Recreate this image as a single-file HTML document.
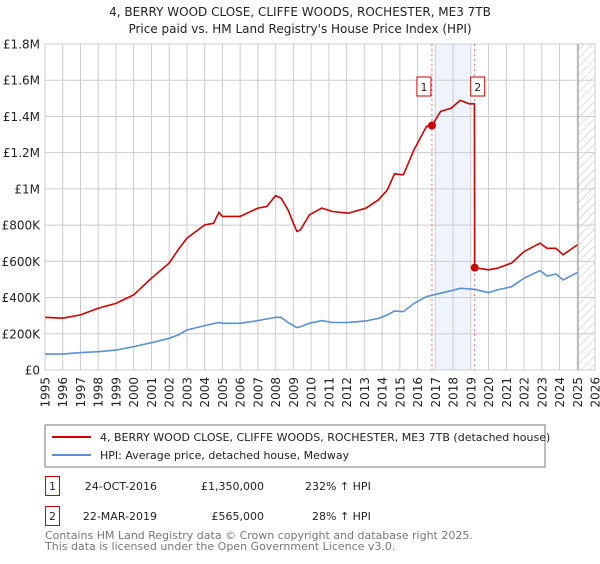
<!DOCTYPE html>
<html><head><meta charset="utf-8"><style>
body{margin:0;background:#fff;width:600px;height:560px;overflow:hidden;font-family:"DejaVu Sans","Liberation Sans",sans-serif;}
svg text{font-family:"DejaVu Sans","Liberation Sans",sans-serif;}
</style></head><body>
<svg id="chart" width="600" height="560" xmlns="http://www.w3.org/2000/svg">
<defs><pattern id="hatch" width="6" height="6" patternUnits="userSpaceOnUse" patternTransform="rotate(45)"><line x1="0" y1="0" x2="0" y2="6" stroke="#bbb" stroke-width="1"/></pattern></defs>
<text x="300" y="16" text-anchor="middle" font-size="12" fill="#222">4, BERRY WOOD CLOSE, CLIFFE WOODS, ROCHESTER, ME3 7TB</text>
<text x="300" y="33" text-anchor="middle" font-size="12" fill="#222">Price paid vs. HM Land Registry's House Price Index (HPI)</text>
<g id="grid"></g><g id="marks"></g><g id="axes"></g>
<rect x="45" y="425" width="500" height="42" fill="#fff" stroke="#777"/>
<line x1="52" y1="437" x2="91" y2="437" stroke="#cc0000" stroke-width="2"/>
<text x="100" y="441" font-size="11" fill="#222">4, BERRY WOOD CLOSE, CLIFFE WOODS, ROCHESTER, ME3 7TB (detached house)</text>
<line x1="52" y1="455" x2="91" y2="455" stroke="#5b8fd6" stroke-width="2"/>
<text x="100" y="459" font-size="11" fill="#222">HPI: Average price, detached house, Medway</text>
<rect x="45.5" y="476.5" width="14" height="19" fill="#fff" stroke="#cc0000"/>
<text x="52.5" y="490" text-anchor="middle" font-size="11" fill="#222">1</text>
<text x="157" y="490" text-anchor="end" font-size="11" fill="#222">24-OCT-2016</text>
<text x="264" y="490" text-anchor="end" font-size="11" fill="#222">£1,350,000</text>
<text x="305" y="490" font-size="11" fill="#222">232% ↑ HPI</text>
<rect x="45.5" y="506.5" width="14" height="19" fill="#fff" stroke="#cc0000"/>
<text x="52.5" y="520" text-anchor="middle" font-size="11" fill="#222">2</text>
<text x="157" y="520" text-anchor="end" font-size="11" fill="#222">22-MAR-2019</text>
<text x="264" y="520" text-anchor="end" font-size="11" fill="#222">£565,000</text>
<text x="312" y="520" font-size="11" fill="#222">28% ↑ HPI</text>
<text x="45" y="539" font-size="11" fill="#777">Contains HM Land Registry data © Crown copyright and database right 2025.</text>
<text x="45" y="550" font-size="11" fill="#777">This data is licensed under the Open Government Licence v3.0.</text>
</svg>
<script>
const yTicks=[0,200,400,600,800,1000,1200,1400,1600,1800];
const yTickLabels=["£0","£200K","£400K","£600K","£800K","£1M","£1.2M","£1.4M","£1.6M","£1.8M"];
const xYears=[1995,1996,1997,1998,1999,2000,2001,2002,2003,2004,2005,2006,2007,2008,2009,2010,2011,2012,2013,2014,2015,2016,2017,2018,2019,2020,2021,2022,2023,2024,2025,2026];
const redX=[1995,1996,1997,1998,1999,2000,2001,2002,2002.5,2003,2004,2004.5,2004.8,2005,2006,2007,2007.5,2008,2008.3,2008.7,2009,2009.2,2009.4,2009.9,2010.6,2011.2,2012.1,2013.1,2013.8,2014.3,2014.7,2015.2,2015.8,2016.5,2016.81,2017.3,2017.9,2018.4,2018.9,2019.2,2019.22,2020,2020.5,2021.3,2022,2022.9,2023.3,2023.8,2024.2,2025];
const redY=[291,286,304,341,368,415,507,590,663,728,801,810,870,848,848,894,903,963,949,884,810,765,774,857,894,875,866,894,940,995,1083,1078,1216,1345,1350,1428,1446,1489,1470,1470,565,553,562,590,654,700,672,672,636,691];
const blueX=[1995,1996,1997,1998,1999,2000,2001,2002,2002.5,2003,2004,2004.8,2005,2006,2007,2008,2008.3,2008.7,2009.2,2009.4,2009.9,2010.6,2011.2,2012.1,2013.1,2013.8,2014.3,2014.7,2015.2,2015.8,2016.5,2017.3,2017.9,2018.4,2019.2,2020,2020.5,2021.3,2022,2022.9,2023.3,2023.8,2024.2,2025];
const blueY=[88,88,96,101,110,129,151,175,193,221,245,262,258,258,273,291,291,262,234,239,258,273,262,263,271,285,304,326,322,368,405,424,438,451,446,427,442,460,507,549,519,530,497,538];
const saleX=[2016.81,2019.22];
const saleY=[1350,565];
const saleLabels=["1","2"];
const L=45,R=595,T=44,B=370;
const xs=y=>L+(y-1995)*(R-L)/31;
const ys=v=>B-v*(B-T)/1800;
const NS="http://www.w3.org/2000/svg";
function mk(p,t,a){const e=document.createElementNS(NS,t);for(const k in a)e.setAttribute(k,a[k]);p.appendChild(e);return e;}
const grid=document.getElementById('grid'),marks=document.getElementById('marks'),axes=document.getElementById('axes');
mk(grid,'rect',{x:xs(2017),y:T,width:xs(2019)-xs(2017),height:B-T,fill:'#eef3fc'});
const hatch=mk(grid,'rect',{x:xs(2025.05),y:T,width:R-xs(2025.05),height:B-T,fill:'url(#hatch)'});


yTicks.forEach((v,i)=>{
 mk(grid,'line',{x1:L,x2:R,y1:ys(v),y2:ys(v),stroke:'#ccc','stroke-width':1});
 const t=mk(axes,'text',{x:40,y:ys(v)+4.5,'text-anchor':'end','font-size':12,fill:'#222'});
 t.textContent=yTickLabels[i];
 
 
});
xYears.forEach(y=>{
 mk(grid,'line',{x1:xs(y),x2:xs(y),y1:T,y2:B,stroke:'#ccc','stroke-width':1});
 const t=mk(axes,'text',{x:0,y:0,'text-anchor':'end','font-size':12,fill:'#222',transform:`translate(${xs(y)+4.5},377) rotate(-90)`});
 t.textContent=y;
 
 
});
mk(grid,'line',{x1:xs(2025.05),x2:xs(2025.05),y1:T,y2:B,stroke:'#999','stroke-width':1});
saleX.forEach(x=>mk(grid,'line',{x1:xs(x),x2:xs(x),y1:T,y2:B,stroke:'#e66','stroke-width':1,'stroke-dasharray':'2,3'}));
const pts=(X,Y)=>X.map((x,i)=>xs(x).toFixed(1)+','+ys(Y[i]).toFixed(1)).join(' ');
const hpi=mk(marks,'polyline',{points:pts(blueX,blueY),fill:'none',stroke:'#5b8fd6','stroke-width':1.6});


const red=mk(marks,'polyline',{points:pts(redX,redY),fill:'none',stroke:'#cc0000','stroke-width':1.6});


saleX.forEach((x,i)=>{
 const c=mk(marks,'circle',{cx:xs(x),cy:ys(saleY[i]),r:4,fill:'#cc0000'});
 
 
 const bx=xs(x)-(i==0?8:-3)-7;
 const r=mk(marks,'rect',{x:bx,y:77,width:14,height:19,fill:'#fff',stroke:'#cc0000'});
 
 
 const t=mk(marks,'text',{x:bx+7,y:91,'text-anchor':'middle','font-size':11,fill:'#222'});
 t.textContent=saleLabels[i];
});
</script>
</body></html>
